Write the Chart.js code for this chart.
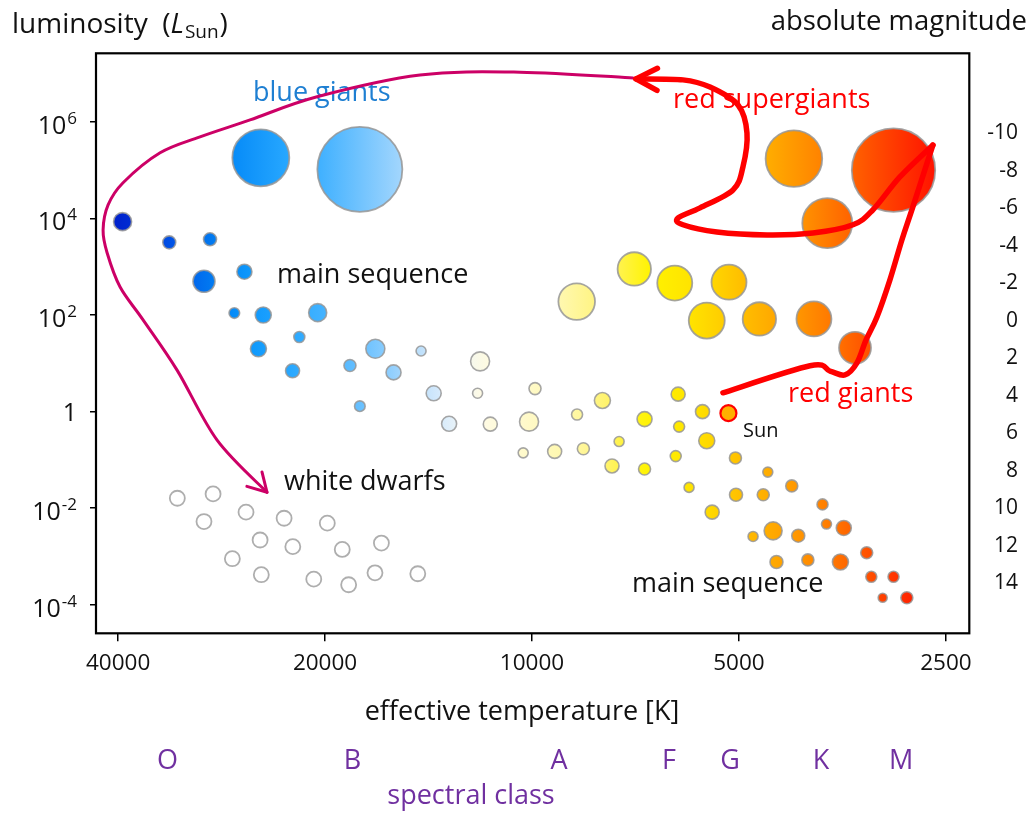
<!DOCTYPE html>
<html>
<head>
<meta charset="utf-8">
<script src="https://cdn.jsdelivr.net/npm/chart.js@4.4.1/dist/chart.umd.min.js"></script>
<style>
  html, body { margin: 0; padding: 0; background: #fff; }
  #wrap { width: 1032px; height: 813px; }
</style>
</head>
<body>
<div id="wrap"><canvas id="hr" width="1032" height="813"></canvas></div>
<script>
// ---------- axes ----------
const tempTicks = [40000, 20000, 10000, 5000, 2500];
const lumTicks  = [1e-4, 1e-2, 1, 1e2, 1e4, 1e6];
const magTicks  = [-10, -8, -6, -4, -2, 0, 2, 4, 6, 8, 10, 12, 14];

// ---------- main sequence: temperature [K], luminosity [L_sun], bubble radius ----------
const msTemp = [39400, 33700, 29400, 30000, 26200, 27100, 24600, 20500, 21800, 25000,
                22300, 18400, 16900, 15900, 14500, 17800, 13900, 11900, 12000, 13200,
                11500, 10100, 9900, 8600, 7900, 6860, 6130, 5650, 6110, 5570,
                7470, 10300, 9270, 8420, 7650, 6860, 6180, 5060, 4540, 5910,
                5050, 4610, 4190, 5470, 3780, 4770, 4460, 4100, 3730, 3520,
                3260, 4410, 3970, 3560, 3210, 2980, 3090, 2850];
const msLum  = [8600, 3200, 3700, 500, 790, 110, 100, 112, 35, 20,
                7, 9, 20, 6.5, 18, 1.3, 2.4, 11, 2.4, 0.56,
                0.55, 0.62, 3, 0.87, 1.7, 0.7, 2.3, 1.0, 0.49, 0.25,
                0.24, 0.14, 0.15, 0.17, 0.075, 0.065, 0.12, 0.11, 0.056, 0.027,
                0.019, 0.019, 0.029, 0.0083, 0.012, 0.0026, 0.0034, 0.0027, 0.0047, 0.0039,
                0.0012, 0.00077, 0.00085, 0.00077, 0.00038, 0.00038, 0.00014, 0.00014];
const msSize = [9, 6.5, 6.5, 11, 7.5, 5.3, 8, 9, 5.5, 8,
                7, 6, 9.5, 7.5, 5, 5.3, 7.5, 9.5, 5, 7.5,
                7, 9.5, 6, 5.5, 8, 7.5, 7, 7, 5.5, 8,
                5, 5, 7, 6, 7, 6, 5.5, 6, 5, 5,
                6.5, 6, 6, 7, 5.5, 5, 9, 6.5, 5, 7.5,
                6, 6.5, 6, 8, 5.5, 5.5, 4.5, 6];

// ---------- giants ----------
const giantTemp = [8610, 7100, 6200, 5170, 5570, 4670, 3890, 3390];
const giantLum  = [190, 900, 460, 480, 77, 83, 83, 21];
const giantSize = [18.3, 16.7, 17.5, 17.5, 18, 16.7, 17.5, 16];

// ---------- supergiants ----------
const superTemp = [4160, 2980, 3720];
const superLum  = [173000, 100000, 8000];
const superSize = [28.3, 41.7, 25];

const blueGiantTemp = [24800, 17800];
const blueGiantLum  = [180000, 104000];
const blueGiantSize = [28.5, 42.5];

// ---------- white dwarfs ----------
const wdTemp = [32800, 29100, 30000, 26060, 22940, 19850, 24860, 22280,
                18880, 16560, 27280, 24760, 20770, 18480, 16920, 14660];
const wdLum  = [0.0161, 0.0198, 0.0053, 0.0083, 0.0062, 0.0049, 0.0022, 0.0016,
                0.0014, 0.0019, 0.0009, 0.00042, 0.00034, 0.00026, 0.00046, 0.00044];
const wdSize = 7.5;

// ---------- the Sun ----------
const sunTemp = [5180];
const sunLum  = [0.93];
const sunSize = [8];

// ---------- spectral classes ----------
const spectralClasses = ['O', 'B', 'A', 'F', 'G', 'K', 'M'];
const spectralTemp    = [33900, 18240, 9135, 6320, 5150, 3800, 2906];

// ---------- evolution tracks: [temperature, log10 luminosity] ----------
const pathToWhiteDwarf = [[7130, 6.91], [10410, 7.03], [14550, 6.97], [20540, 6.52], [25710, 6.04],
  [30400, 5.69], [34750, 5.36], [39340, 4.74], [41360, 4.28], [42060, 3.76], [41500, 3.29],
  [39730, 2.58], [36790, 1.90], [32830, 0.86], [28710, -0.59], [24290, -1.67]];
const pathRedUp = [[5276, 0.39], [3942, 0.95], [3687, 0.84], [3506, 0.76], [3368, 1.01],
  [3268, 1.48], [3150, 1.96], [3016, 2.73], [2897, 3.56], [2793, 4.24], [2612, 5.52]];
const pathRedBack = [[2612, 5.52], [2917, 4.86], [3192, 4.18], [3413, 3.87], [3903, 3.70],
  [4552, 3.66], [5384, 3.72], [6032, 3.87], [6133, 4.01], [5696, 4.22], [5101, 4.59],
  [4934, 5.07], [4868, 5.77], [5016, 6.35], [5509, 6.72], [6032, 6.87], [7061, 6.89]];

// ---------- colour by temperature ----------
const COLOR_STOPS = [
  [40000, [0, 32, 204]], [33600, [0, 80, 230]], [29400, [0, 120, 240]], [26140, [10, 150, 252]],
  [22490, [40, 168, 255]], [19670, [72, 180, 255]], [16920, [120, 198, 255]], [14550, [191, 224, 251]],
  [13160, [226, 240, 253]], [11920, [255, 251, 230]], [10070, [255, 250, 200]], [8517, [255, 247, 160]],
  [7700, [255, 242, 102]], [6860, [255, 245, 0]], [5696, [255, 224, 0]], [4985, [255, 192, 0]],
  [4360, [255, 164, 0]], [3810, [255, 132, 0]], [3448, [255, 100, 0]], [3118, [255, 68, 0]],
  [2820, [255, 36, 0]], [2550, [255, 16, 0]]
];

function tempColor(T) {
  if (T >= COLOR_STOPS[0][0]) return `rgb(${COLOR_STOPS[0][1].join(',')})`;
  for (let i = 0; i < COLOR_STOPS.length - 1; i++) {
    const [t0, c0] = COLOR_STOPS[i];
    const [t1, c1] = COLOR_STOPS[i + 1];
    if (T <= t0 && T >= t1) {
      const f = Math.log(t0 / T) / Math.log(t0 / t1);
      const c = c0.map((v, k) => Math.round(v + (c1[k] - v) * f));
      return `rgb(${c.join(',')})`;
    }
  }
  return `rgb(${COLOR_STOPS[COLOR_STOPS.length - 1][1].join(',')})`;
}

function bubbleFill(c) {
  const chart = c.chart;
  const xs = chart.scales.x;
  if (!xs || !c.raw || !chart.chartArea) return '#ccc';
  const cx = xs.getPixelForValue(c.raw.x);
  const r = c.raw.r;
  const g = chart.ctx.createLinearGradient(cx - r, 0, cx + r, 0);
  g.addColorStop(0, tempColor(xs.getValueForPixel(cx - r)));
  g.addColorStop(1, tempColor(xs.getValueForPixel(cx + r)));
  return g;
}

const toPoints = (temps, lums, sizes) =>
  temps.map((t, i) => ({ x: t, y: lums[i], r: Array.isArray(sizes) ? sizes[i] : sizes }));

const FONT = "'Open Sans', 'Noto Sans', sans-serif";
const BORDER = 'rgba(150,150,150,0.85)';

// ---------- drawing helpers ----------
function strokeSmooth(ctx, pts) {
  ctx.beginPath();
  ctx.moveTo(pts[0][0], pts[0][1]);
  for (let i = 0; i < pts.length - 1; i++) {
    const p0 = pts[i - 1] || pts[i];
    const p1 = pts[i], p2 = pts[i + 1];
    const p3 = pts[i + 2] || p2;
    ctx.bezierCurveTo(
      p1[0] + (p2[0] - p0[0]) / 6, p1[1] + (p2[1] - p0[1]) / 6,
      p2[0] - (p3[0] - p1[0]) / 6, p2[1] - (p3[1] - p1[1]) / 6,
      p2[0], p2[1]);
  }
  ctx.stroke();
}

function arrowHead(ctx, pts, len, half) {
  const tip = pts[pts.length - 1], prev = pts[pts.length - 2];
  const back = Math.atan2(prev[1] - tip[1], prev[0] - tip[0]);
  ctx.beginPath();
  ctx.moveTo(tip[0] + len * Math.cos(back + half), tip[1] + len * Math.sin(back + half));
  ctx.lineTo(tip[0], tip[1]);
  ctx.lineTo(tip[0] + len * Math.cos(back - half), tip[1] + len * Math.sin(back - half));
  ctx.stroke();
}

const hrDecor = {
  id: 'hrDecor',
  afterDraw(chart) {
    const { ctx, chartArea: a, scales } = chart;
    const xs = scales.x, ys = scales.y;
    const toPx = (p) => [xs.getPixelForValue(p[0]), ys.getPixelForValue(Math.pow(10, p[1]))];

    ctx.save();
    // frame
    ctx.strokeStyle = '#000';
    ctx.lineWidth = 2.2;
    ctx.strokeRect(a.left, a.top, a.right - a.left, a.bottom - a.top);

    // left tick labels 10^n
    ctx.fillStyle = '#111';
    ctx.textBaseline = 'alphabetic';
    ys.ticks.forEach(t => {
      const y = ys.getPixelForValue(t.value);
      const e = Math.round(Math.log10(t.value));
      const right = 77;
      if (e === 0) {
        ctx.font = `25px ${FONT}`;
        ctx.textAlign = 'right';
        ctx.fillText('1', right, y + 9);
        return;
      }
      ctx.font = `17px ${FONT}`;
      const sup = String(e);
      const wSup = ctx.measureText(sup).width;
      ctx.textAlign = 'left';
      ctx.fillText(sup, right - wSup, y + 2);
      ctx.font = `25px ${FONT}`;
      ctx.textAlign = 'right';
      ctx.fillText('10', right - wSup - 1, y + 12);
    });

    // titles
    ctx.textAlign = 'left';
    ctx.font = `28px ${FONT}`;
    let x = 12;
    ctx.fillText('luminosity  (', x, 33);
    x += ctx.measureText('luminosity  (').width;
    ctx.font = `italic 28px ${FONT}`;
    ctx.fillText('L', x, 33);
    x += ctx.measureText('L').width + 1;
    ctx.font = `19px ${FONT}`;
    ctx.fillText('Sun', x, 38);
    x += ctx.measureText('Sun').width + 1;
    ctx.font = `28px ${FONT}`;
    ctx.fillText(')', x, 33);

    ctx.textAlign = 'right';
    ctx.font = `27.5px ${FONT}`;
    ctx.fillText('absolute magnitude', 1027, 30);

    // region labels
    ctx.textAlign = 'left';
    ctx.font = `27px ${FONT}`;
    ctx.fillStyle = '#1e7fd2';
    ctx.fillText('blue giants', 253, 101);
    ctx.fillStyle = '#ff0000';
    ctx.fillText('red supergiants', 673, 108);
    ctx.fillText('red giants', 788, 402);
    ctx.fillStyle = '#111';
    ctx.fillText('main sequence', 277, 283);
    ctx.fillText('white dwarfs', 284, 490);
    ctx.fillText('main sequence', 632, 592);
    ctx.font = `20px ${FONT}`;
    ctx.fillText('Sun', 743, 437);

    // x axis title + spectral classes
    ctx.textAlign = 'center';
    ctx.font = `27px ${FONT}`;
    ctx.fillText('effective temperature [K]', 522, 720);
    ctx.fillStyle = '#7030a0';
    ctx.font = `27px ${FONT}`;
    spectralClasses.forEach((s, i) => {
      ctx.fillText(s, xs.getPixelForValue(spectralTemp[i]), 769);
    });
    ctx.fillText('spectral class', 471, 804);

    // evolution tracks
    ctx.lineCap = 'round';
    ctx.lineJoin = 'round';
    ctx.strokeStyle = '#cc0066';
    ctx.lineWidth = 3;
    const mag = pathToWhiteDwarf.map(toPx);
    strokeSmooth(ctx, mag);
    arrowHead(ctx, mag, 21, 0.52);

    ctx.strokeStyle = '#ff0000';
    ctx.lineWidth = 5.5;
    strokeSmooth(ctx, pathRedUp.map(toPx));
    const back = pathRedBack.map(toPx);
    strokeSmooth(ctx, back);
    arrowHead(ctx, back, 24, 0.48);
    ctx.restore();
  }
};

new Chart(document.getElementById('hr'), {
  type: 'bubble',
  data: {
    datasets: [
      { label: 'Sun', data: toPoints(sunTemp, sunLum, sunSize),
        backgroundColor: '#ffb000', borderColor: '#ff0000', borderWidth: 2.2 },
      { label: 'blue giants', data: toPoints(blueGiantTemp, blueGiantLum, blueGiantSize),
        backgroundColor: bubbleFill, borderColor: BORDER, borderWidth: 1.8 },
      { label: 'supergiants', data: toPoints(superTemp, superLum, superSize),
        backgroundColor: bubbleFill, borderColor: BORDER, borderWidth: 1.8 },
      { label: 'giants', data: toPoints(giantTemp, giantLum, giantSize),
        backgroundColor: bubbleFill, borderColor: BORDER, borderWidth: 1.8 },
      { label: 'main sequence', data: toPoints(msTemp, msLum, msSize),
        backgroundColor: bubbleFill, borderColor: BORDER, borderWidth: 1.6 },
      { label: 'white dwarfs', data: toPoints(wdTemp, wdLum, wdSize),
        backgroundColor: '#ffffff', borderColor: 'rgba(170,170,170,0.95)', borderWidth: 1.8 }
    ]
  },
  options: {
    responsive: false,
    animation: false,
    events: [],
    clip: false,
    layout: { padding: { top: 53.3, left: 0, right: 14, bottom: 0 }, autoPadding: false },
    plugins: { legend: { display: false }, tooltip: { enabled: false } },
    scales: {
      x: {
        type: 'logarithmic',
        reverse: true,
        min: 2312,
        max: 43070,
        afterBuildTicks: (s) => { s.ticks = tempTicks.map(v => ({ value: v })); },
        afterFit: (s) => { s.height = 179.7; },
        border: { display: false },
        grid: { drawOnChartArea: false, tickLength: 8, color: '#000', lineWidth: 1.5 },
        ticks: {
          autoSkip: false, maxRotation: 0, padding: 9, color: '#111',
          font: { family: FONT, size: 22.5 },
          callback: (v) => String(v)
        }
      },
      y: {
        type: 'logarithmic',
        position: 'left',
        min: Math.pow(10, -4.59),
        max: Math.pow(10, 7.42),
        afterBuildTicks: (s) => { s.ticks = lumTicks.map(v => ({ value: v })); },
        afterFit: (s) => { s.width = 96; },
        border: { display: false },
        grid: { drawOnChartArea: false, tickLength: 6, color: '#000', lineWidth: 1.5 },
        ticks: { color: 'rgba(0,0,0,0)', callback: () => '' }
      },
      y2: {
        type: 'linear',
        position: 'right',
        reverse: true,
        min: -14.25,
        max: 16.66,
        afterBuildTicks: (s) => { s.ticks = magTicks.map(v => ({ value: v })); },
        afterFit: (s) => { s.width = 48.7; },
        border: { display: false },
        grid: { display: false, drawTicks: false, tickLength: 0 },
        ticks: {
          crossAlign: 'far', padding: 12, color: '#111',
          font: { family: FONT, size: 21 },
          callback: (v) => String(v)
        }
      }
    }
  },
  plugins: [hrDecor]
});
</script>
</body>
</html>
